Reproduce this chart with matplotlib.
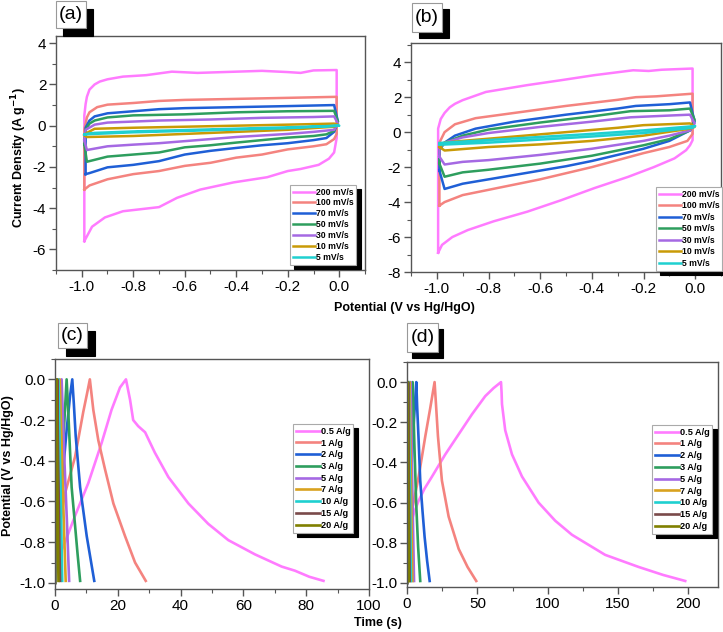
import matplotlib
matplotlib.use("Agg")
import matplotlib.pyplot as plt
from matplotlib.patches import Rectangle
from matplotlib.ticker import MultipleLocator

plt.rcParams['font.family'] = ['Liberation Sans', 'DejaVu Sans']
plt.rcParams['axes.unicode_minus'] = False

# ---- CV data, panel (a) ----
a200_E = [-0.99, -0.99, -0.985, -0.98, -0.97, -0.95, -0.93, -0.9, -0.84, -0.75, -0.65, -0.55, -0.45, -0.3, -0.2, -0.15, -0.1, -0.01,
          -0.01, -0.02, -0.04, -0.08, -0.15, -0.2, -0.28, -0.41, -0.54, -0.63, -0.7, -0.77, -0.84, -0.91, -0.96, -0.99]
a200_J = [-5.6, 0.5, 1.05, 1.4, 1.75, 2.0, 2.14, 2.25, 2.38, 2.45, 2.62, 2.56, 2.6, 2.66, 2.6, 2.56, 2.68, 2.7,
          -0.6, -1.3, -1.6, -1.9, -2.1, -2.2, -2.5, -2.75, -3.1, -3.5, -3.95, -4.05, -4.15, -4.45, -4.9, -5.6]
a100_E = [-0.99, -0.99, -0.98, -0.97, -0.94, -0.9, -0.8, -0.7, -0.6, -0.4, -0.2, -0.01,
          -0.01, -0.02, -0.05, -0.1, -0.2, -0.3, -0.4, -0.5, -0.6, -0.7, -0.8, -0.9, -0.97, -0.99]
a100_J = [-3.1, -0.2, 0.4, 0.65, 0.9, 1.02, 1.1, 1.2, 1.25, 1.3, 1.35, 1.4,
          -0.4, -0.65, -0.9, -1.0, -1.15, -1.4, -1.55, -1.8, -1.95, -2.2, -2.35, -2.6, -2.9, -3.1]
a70_E = [-0.985, -0.985, -0.97, -0.95, -0.9, -0.8, -0.7, -0.6, -0.4, -0.2, -0.02, -0.005,
         -0.02, -0.05, -0.1, -0.2, -0.3, -0.4, -0.5, -0.6, -0.7, -0.8, -0.9, -0.97, -0.985]
a70_J = [-2.35, -0.1, 0.25, 0.45, 0.6, 0.7, 0.8, 0.85, 0.9, 0.95, 1.0, 0.2,
         -0.3, -0.6, -0.7, -0.85, -0.95, -1.08, -1.22, -1.4, -1.72, -1.9, -2.02, -2.3, -2.35]
a50_E = [-0.99, -0.985, -0.97, -0.95, -0.9, -0.8, -0.6, -0.4, -0.2, -0.02, -0.005,
         -0.02, -0.05, -0.1, -0.2, -0.3, -0.4, -0.5, -0.6, -0.7, -0.8, -0.9, -0.98, -0.99]
a50_J = [-0.9, -0.2, 0.1, 0.25, 0.4, 0.5, 0.55, 0.65, 0.7, 0.72, 0.2,
         -0.25, -0.42, -0.5, -0.58, -0.7, -0.82, -0.95, -1.05, -1.3, -1.4, -1.5, -1.75, -0.9]
a30_E = [-0.99, -0.985, -0.95, -0.9, -0.7, -0.5, -0.3, -0.1, -0.02, -0.005,
         -0.02, -0.1, -0.2, -0.4, -0.6, -0.7, -0.8, -0.9, -0.98, -0.99]
a30_J = [-0.7, -0.2, 0.05, 0.15, 0.25, 0.3, 0.38, 0.42, 0.45, 0.1,
         -0.2, -0.3, -0.4, -0.55, -0.75, -0.85, -0.92, -1.0, -1.18, -0.7]
a10_E = [-0.99, -0.98, -0.95, -0.8, -0.6, -0.4, -0.2, -0.02, -0.005,
         -0.02, -0.2, -0.4, -0.6, -0.8, -0.98, -0.99]
a10_J = [-0.45, -0.35, -0.15, -0.1, -0.05, 0.0, 0.05, 0.1, 0.05,
         -0.05, -0.2, -0.3, -0.4, -0.5, -0.55, -0.45]
a5_E = [-0.99, -0.95, -0.8, -0.5, -0.2, 0.0, -0.2, -0.5, -0.8, -0.99]
a5_J = [-0.42, -0.35, -0.28, -0.18, -0.08, 0.0, -0.12, -0.22, -0.32, -0.42]

# ---- CV data, panel (b) ----
b200_E = [-0.995, -0.995, -0.985, -0.97, -0.95, -0.93, -0.9, -0.81, -0.65, -0.52, -0.39, -0.24, -0.18, -0.13, -0.01,
          -0.01, -0.02, -0.035, -0.08, -0.16, -0.26, -0.39, -0.52, -0.65, -0.78, -0.88, -0.94, -0.98, -0.995]
b200_J = [-6.9, 0.2, 0.75, 1.1, 1.42, 1.62, 1.83, 2.3, 2.69, 2.97, 3.26, 3.54, 3.5, 3.57, 3.64,
          -0.46, -0.75, -1.03, -1.5, -2.0, -2.56, -3.2, -3.9, -4.55, -5.1, -5.6, -6.0, -6.45, -6.9]
b100_E = [-0.99, -0.99, -0.97, -0.93, -0.85, -0.7, -0.5, -0.3, -0.23, -0.15, -0.01,
          -0.01, -0.03, -0.1, -0.2, -0.3, -0.4, -0.5, -0.6, -0.7, -0.8, -0.9, -0.97, -0.99]
b100_J = [-4.2, -0.6, 0.0, 0.45, 0.8, 1.1, 1.5, 1.85, 2.0, 2.05, 2.2,
          -0.1, -0.5, -0.85, -1.2, -1.6, -2.0, -2.35, -2.7, -3.0, -3.3, -3.6, -4.0, -4.2]
b70_E = [-0.99, -0.99, -0.97, -0.93, -0.85, -0.7, -0.5, -0.3, -0.23, -0.1, -0.02, -0.002,
         -0.02, -0.1, -0.2, -0.3, -0.4, -0.5, -0.6, -0.7, -0.8, -0.9, -0.97, -0.99]
b70_J = [-2.2, -1.0, -0.6, -0.2, 0.2, 0.6, 1.0, 1.35, 1.5, 1.6, 1.7, 0.6,
         0.1, -0.5, -0.95, -1.3, -1.65, -1.95, -2.2, -2.45, -2.7, -2.95, -3.25, -2.2]
b50_E = [-0.99, -0.99, -0.97, -0.9, -0.8, -0.6, -0.4, -0.25, -0.1, -0.02, -0.002,
         -0.02, -0.1, -0.2, -0.4, -0.6, -0.8, -0.9, -0.97, -0.99]
b50_J = [-1.8, -1.0, -0.6, -0.2, 0.15, 0.55, 0.9, 1.2, 1.25, 1.35, 0.7,
         0.1, -0.4, -0.75, -1.35, -1.8, -2.15, -2.3, -2.55, -1.8]
b30_E = [-0.99, -0.99, -0.97, -0.9, -0.8, -0.6, -0.4, -0.25, -0.1, -0.02, -0.002,
         -0.02, -0.1, -0.2, -0.4, -0.6, -0.8, -0.9, -0.97, -0.99]
b30_J = [-1.4, -0.9, -0.6, -0.3, -0.05, 0.3, 0.6, 0.85, 0.95, 1.0, 0.5,
         0.1, -0.2, -0.5, -0.95, -1.3, -1.6, -1.7, -1.85, -1.4]
b10_E = [-0.99, -0.97, -0.9, -0.7, -0.5, -0.3, -0.2, -0.02, -0.002,
         -0.02, -0.2, -0.4, -0.6, -0.8, -0.97, -0.99]
b10_J = [-0.85, -0.6, -0.5, -0.25, 0.0, 0.25, 0.4, 0.5, 0.3,
         0.2, -0.2, -0.5, -0.7, -0.85, -1.05, -0.85]
b5_E = [-0.99, -0.8, -0.4, -0.2, 0.0, -0.01, -0.2, -0.4, -0.8, -0.99]
b5_J = [-0.62, -0.45, -0.1, 0.1, 0.35, 0.25, -0.05, -0.25, -0.6, -0.72]

scan_labels = ['200 mV/s', '100 mV/s', '70 mV/s', '50 mV/s', '30 mV/s', '10 mV/s', '5 mV/s']
cv_colors = ['#FF7BFF', '#F4837F', '#1F5FD6', '#2E9E5E', '#A569E3', '#C99A06', '#1FD0D0']

# ---- GCD data, panel (c) ----
c05_t = [0, 1, 3.2, 6.4, 10.6, 14.9, 18, 20.7, 22.6, 23.9, 24.9, 26.5, 28.7, 31.8, 36.1, 42.5, 48.8, 55.2, 63.7,
         72.2, 76.4, 81, 85.5]
c05_V = [-1.0, -0.88, -0.8, -0.67, -0.51, -0.31, -0.15, -0.04, 0.0, -0.1, -0.2, -0.23, -0.26, -0.36, -0.48, -0.61,
         -0.71, -0.79, -0.86, -0.92, -0.94, -0.97, -0.99]
c1_t = [0, 0.5, 2.1, 3.2, 6.4, 9.0, 10.2, 11.1, 12.2, 13.8, 15.9, 18.6, 22.3, 25.5, 28.9]
c1_V = [-1.0, -0.85, -0.66, -0.56, -0.38, -0.16, -0.07, 0.0, -0.15, -0.3, -0.44, -0.61, -0.77, -0.9, -0.99]
c2_t = [0, 0.8, 2.1, 3.7, 4.8, 5.5, 6.0, 6.6, 8.0, 10.1, 11.3, 12.5]
c2_V = [-1.0, -0.75, -0.53, -0.25, -0.08, 0.0, -0.12, -0.28, -0.53, -0.77, -0.88, -0.99]
c3_t = [0, 1, 2, 3, 3.7, 4.2, 5.3, 6.4, 7.2, 8.0]
c3_V = [-1.0, -0.7, -0.45, -0.2, 0.0, -0.15, -0.53, -0.72, -0.86, -0.99]
c5_t = [0, 1, 2.1, 3, 3.8, 4.5]
c5_V = [-1.0, -0.55, 0.0, -0.4, -0.7, -0.99]
c7_t = [0, 0.7, 1.5, 2.2, 2.8, 3.4]
c7_V = [-1.0, -0.52, 0.0, -0.38, -0.7, -0.99]
c10_t = [0, 0.5, 1.1, 1.6, 2.0, 2.3]
c10_V = [-1.0, -0.5, 0.0, -0.42, -0.72, -0.99]
c15_t = [0, 0.35, 0.7, 1.0, 1.3, 1.6]
c15_V = [-1.0, -0.5, 0.0, -0.4, -0.7, -0.99]
c20_t = [0, 0.25, 0.5, 0.7, 0.9, 1.1]
c20_V = [-1.0, -0.5, 0.0, -0.4, -0.72, -0.99]

# ---- GCD data, panel (d) ----
d05_t = [0, 0.5, 1.2, 2.5, 5, 8.3, 12.5, 17.8, 27.2, 36.7, 46.2, 55.6, 61.5, 66.8, 67.2, 67.5, 69.8, 74.6, 81.7,
         93.5, 105.3, 117.2, 140.8, 164.5, 182, 197.7]
d05_V = [-1.0, -0.88, -0.78, -0.71, -0.65, -0.59, -0.53, -0.47, -0.36, -0.26, -0.16, -0.07, -0.03, 0.0, -0.05,
         -0.11, -0.24, -0.36, -0.47, -0.6, -0.69, -0.76, -0.86, -0.92, -0.96, -0.99]
d1_t = [0, 0.5, 3.5, 8.3, 13, 16.5, 19.6, 20.5, 22, 24.8, 29.6, 36.7, 43, 49.2]
d1_V = [-1.0, -0.82, -0.64, -0.47, -0.27, -0.13, 0.0, -0.1, -0.27, -0.49, -0.67, -0.83, -0.92, -0.99]
d2_t = [0, 1.5, 3, 4.5, 6.6, 7.2, 8.2, 9.4, 11, 12.5, 14.3, 16.1]
d2_V = [-1.0, -0.7, -0.45, -0.24, 0.0, -0.12, -0.28, -0.49, -0.64, -0.77, -0.89, -0.99]
d3_t = [0, 1, 2, 3, 4.0, 5.2, 6.5, 7.9, 9.4]
d3_V = [-1.0, -0.72, -0.48, -0.24, 0.0, -0.3, -0.6, -0.82, -0.99]
d5_t = [0, 1.2, 2.5, 3.7, 5.0]
d5_V = [-1.0, -0.5, 0.0, -0.5, -0.99]
d7_t = [0, 0.9, 1.8, 2.8, 3.8]
d7_V = [-1.0, -0.5, 0.0, -0.52, -0.99]
d10_t = [0, 0.6, 1.2, 2.0, 2.8]
d10_V = [-1.0, -0.5, 0.0, -0.48, -0.99]
d15_t = [0, 0.4, 0.8, 1.3, 1.9]
d15_V = [-1.0, -0.5, 0.0, -0.5, -0.99]
d20_t = [0, 0.25, 0.5, 0.9, 1.3]
d20_V = [-1.0, -0.5, 0.0, -0.5, -0.99]

current_labels = ['0.5 A/g', '1 A/g', '2 A/g', '3 A/g', '5 A/g', '7 A/g', '10 A/g', '15 A/g', '20 A/g']
gcd_colors = ['#FF7BFF', '#F4837F', '#1F5FD6', '#2E9E5E', '#A569E3', '#D9A21F', '#1FD0D0', '#7A4A4A', '#808000']

W, H = 723, 632
fig = plt.figure(figsize=(W / 100, H / 100), dpi=100)


def px_axes(l, t, r, b):
    return fig.add_axes([l / W, 1 - b / H, (r - l) / W, (b - t) / H])


def style(ax):
    for s in ax.spines.values():
        s.set_color('#555555')
        s.set_linewidth(1.0)
    ax.tick_params(which='both', direction='out', top=False, right=False, labelsize=11, color='#555555', pad=2)
    ax.tick_params(which='major', length=5, width=1)
    ax.tick_params(which='minor', length=3, width=0.8)


def add_legend(ax, x, y, size, spacing):
    leg = ax.legend(loc='upper left', bbox_to_anchor=(x / W, 1 - y / H), bbox_transform=fig.transFigure,
                    borderaxespad=0, prop={'weight': 'bold', 'size': size}, fancybox=False,
                    framealpha=1, edgecolor='#aaaaaa', labelspacing=spacing, handlelength=2.6,
                    handletextpad=0.15, borderpad=0.3,
                    shadow={'color': 'black', 'alpha': 1, 'ox': 3, 'oy': -3})
    leg.get_frame().set_linewidth(0.8)
    return leg


def panel_tag(text, box, shadow):
    # box / shadow given as (left, top, right, bottom) in pixels
    for (l, t, r, b), fc, ec in [(shadow, 'black', 'black'), (box, 'white', '#999999')]:
        fig.patches.append(Rectangle((l / W, 1 - b / H), (r - l) / W, (b - t) / H, transform=fig.transFigure,
                                     facecolor=fc, edgecolor=ec, lw=0.8))
    l, t, r, b = box
    fig.text((l + r) / 2 / W, 1 - (t + b) / 2 / H, text, ha='center', va='center', fontsize=14)


# ---- (a) ----
ax_a = px_axes(56, 36, 365, 270)
for E, J, lab, col in zip([a200_E, a100_E, a70_E, a50_E, a30_E, a10_E, a5_E],
                          [a200_J, a100_J, a70_J, a50_J, a30_J, a10_J, a5_J], scan_labels, cv_colors):
    ax_a.plot(E, J, color=col, lw=1.8, label=lab)
ax_a.set_xlim(-1.1, 0.1)
ax_a.set_ylim(-7, 4.35)
ax_a.xaxis.set_major_locator(MultipleLocator(0.2))
ax_a.xaxis.set_minor_locator(MultipleLocator(0.1))
ax_a.yaxis.set_major_locator(MultipleLocator(2))
ax_a.yaxis.set_minor_locator(MultipleLocator(1))
style(ax_a)
add_legend(ax_a, 290, 185, 6.2, 0.22)

# ---- (b) ----
ax_b = px_axes(411, 43, 721, 272)
for E, J, lab, col in zip([b200_E, b100_E, b70_E, b50_E, b30_E, b10_E, b5_E],
                          [b200_J, b100_J, b70_J, b50_J, b30_J, b10_J, b5_J], scan_labels, cv_colors):
    ax_b.plot(E, J, color=col, lw=1.8, label=lab)
ax_b.set_xlim(-1.1, 0.1)
ax_b.set_ylim(-8, 5.1)
ax_b.xaxis.set_major_locator(MultipleLocator(0.2))
ax_b.xaxis.set_minor_locator(MultipleLocator(0.1))
ax_b.yaxis.set_major_locator(MultipleLocator(2))
ax_b.yaxis.set_minor_locator(MultipleLocator(1))
style(ax_b)
add_legend(ax_b, 656, 187, 6.2, 0.3)

# ---- (c) ----
ax_c = px_axes(55, 359, 369, 589)
for t, V, lab, col in zip([c05_t, c1_t, c2_t, c3_t, c5_t, c7_t, c10_t, c15_t, c20_t],
                          [c05_V, c1_V, c2_V, c3_V, c5_V, c7_V, c10_V, c15_V, c20_V], current_labels, gcd_colors):
    ax_c.plot(t, V, color=col, lw=1.9, label=lab)
ax_c.set_xlim(0, 100)
ax_c.set_ylim(-1.03, 0.1)
ax_c.xaxis.set_major_locator(MultipleLocator(20))
ax_c.xaxis.set_minor_locator(MultipleLocator(10))
ax_c.yaxis.set_major_locator(MultipleLocator(0.2))
ax_c.yaxis.set_minor_locator(MultipleLocator(0.1))
ax_c.yaxis.set_major_formatter(lambda v, p: f'{v:.1f}')
style(ax_c)
add_legend(ax_c, 293, 424, 6.6, 0.3)

# ---- (d) ----
ax_d = px_axes(407, 362, 718, 587)
for t, V, lab, col in zip([d05_t, d1_t, d2_t, d3_t, d5_t, d7_t, d10_t, d15_t, d20_t],
                          [d05_V, d1_V, d2_V, d3_V, d5_V, d7_V, d10_V, d15_V, d20_V], current_labels, gcd_colors):
    ax_d.plot(t, V, color=col, lw=1.9, label=lab)
ax_d.set_xlim(0, 221)
ax_d.set_ylim(-1.02, 0.1)
ax_d.xaxis.set_major_locator(MultipleLocator(50))
ax_d.xaxis.set_minor_locator(MultipleLocator(25))
ax_d.yaxis.set_major_locator(MultipleLocator(0.2))
ax_d.yaxis.set_minor_locator(MultipleLocator(0.1))
ax_d.yaxis.set_major_formatter(lambda v, p: f'{v:.1f}')
style(ax_d)
add_legend(ax_d, 652, 425, 6.6, 0.3)

# shared labels
fig.text(404 / W, 1 - 308 / H, 'Potential (V vs Hg/HgO)', ha='center', va='center', fontsize=9, fontweight='bold')
fig.text(378 / W, 1 - 623 / H, 'Time (s)', ha='center', va='center', fontsize=9, fontweight='bold')
fig.text(19 / W, 1 - 157 / H, r'Current Density (A g$^{\mathbf{-1}}$)', ha='center', va='center',
         rotation=90, fontsize=9, fontweight='bold')
fig.text(8 / W, 1 - 466 / H, 'Potential (V vs Hg/HgO)', ha='center', va='center',
         rotation=90, fontsize=9, fontweight='bold')

panel_tag('(a)', (56, 1, 86, 28), (63, 9, 93, 36))
panel_tag('(b)', (412, 3, 442, 32), (419, 9, 449, 38))
panel_tag('(c)', (58, 323, 87, 348), (66, 331, 95, 356))
panel_tag('(d)', (407, 323, 438, 352), (412, 329, 443, 358))

fig.savefig('out.png', dpi=100)
